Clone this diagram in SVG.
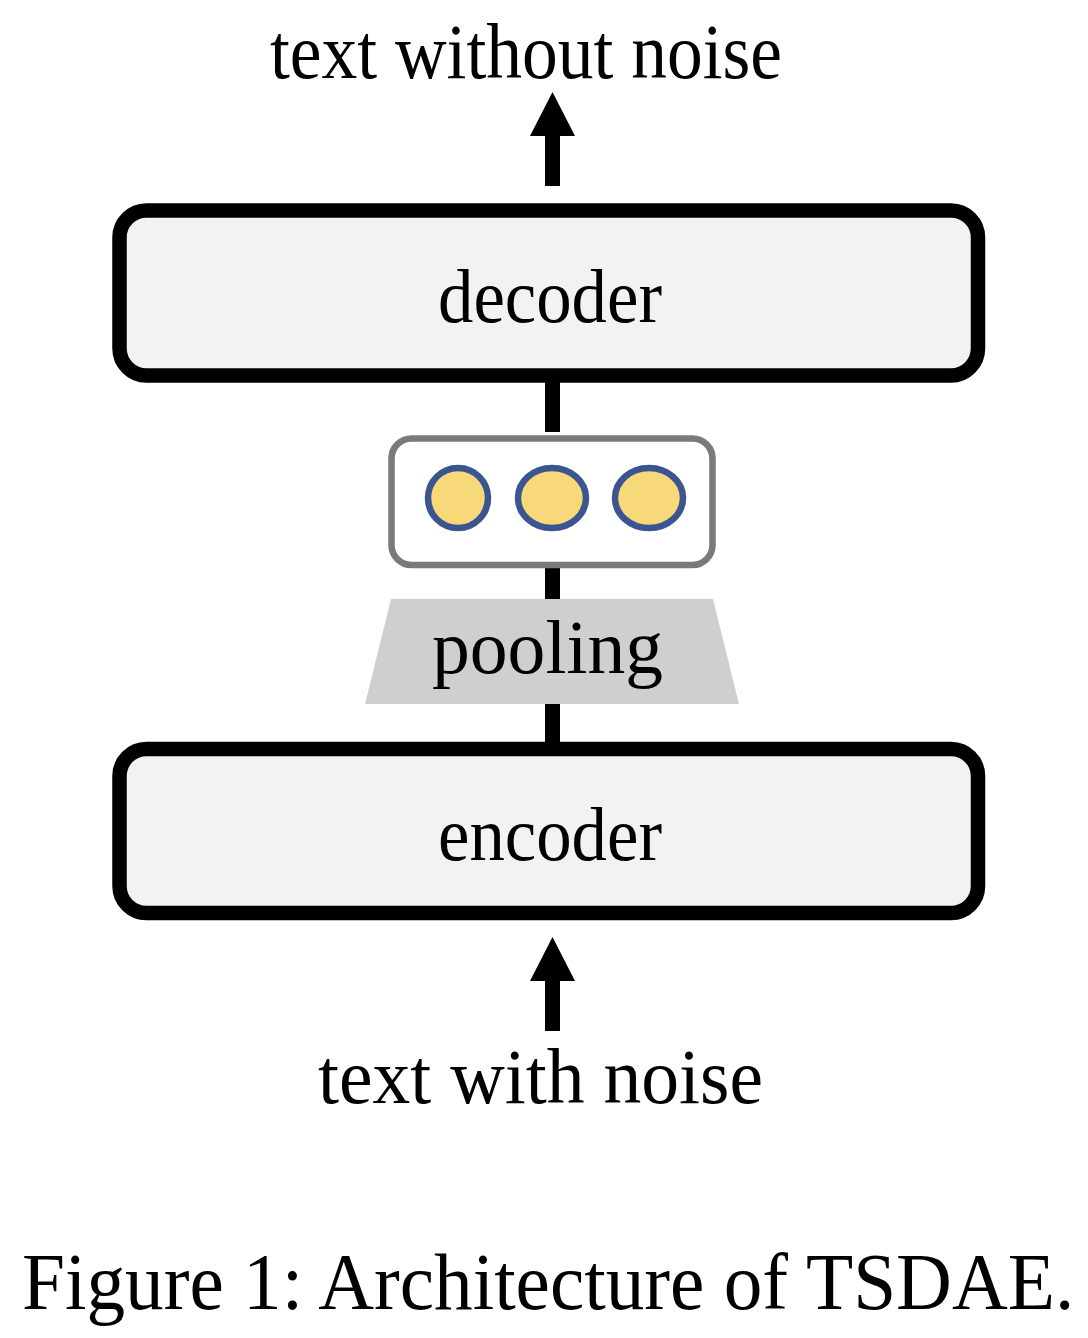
<svg xmlns="http://www.w3.org/2000/svg" width="1088" height="1338" viewBox="0 0 1088 1338">
<style>
.t{font-family:"Liberation Serif","Times New Roman",serif;fill:#000}
.box{fill:#f2f2f2;stroke:#000;stroke-width:14.5}
.conn{stroke:#000;stroke-width:15;fill:none}
.dot{fill:#f8d97a;stroke:#3b5590;stroke-width:6.5}
</style>
<rect width="1088" height="1338" fill="#fff"/>
<g id="connectors">
<line class="conn" x1="552.5" y1="186" x2="552.5" y2="130"/>
<polygon points="530,136 575,136 552.5,92" fill="#000"/>
<line class="conn" x1="552.5" y1="376" x2="552.5" y2="432"/>
<line class="conn" x1="552.5" y1="565" x2="552.5" y2="602"/>
<line class="conn" x1="552.5" y1="702" x2="552.5" y2="746"/>
<line class="conn" x1="552.5" y1="1031" x2="552.5" y2="975"/>
<polygon points="530,981 575,981 552.5,937" fill="#000"/>
</g>
<g id="output-label"><text class="t" x="270" y="78" font-size="78" textLength="512" lengthAdjust="spacingAndGlyphs">text without noise</text></g>
<g id="decoder">
<rect class="box" x="119.5" y="210.5" width="858.5" height="165" rx="27"/>
<text class="t" x="438" y="322" font-size="76" textLength="224" lengthAdjust="spacingAndGlyphs">decoder</text>
</g>
<g id="embedding">
<rect x="391.5" y="438.5" width="321" height="126.5" rx="20" fill="#fff" stroke="#7a7a7a" stroke-width="6.5"/>
<ellipse class="dot" cx="458" cy="498" rx="30" ry="30"/>
<ellipse class="dot" cx="552" cy="498" rx="34" ry="30"/>
<ellipse class="dot" cx="649" cy="498" rx="34" ry="30"/>
</g>
<g id="pooling">
<polygon points="391,599 713,599 739,704 365,704" fill="#d0cfd0"/>
<text class="t" x="432" y="673" font-size="76" textLength="231" lengthAdjust="spacingAndGlyphs">pooling</text>
</g>
<g id="encoder">
<rect class="box" x="119.5" y="749" width="858.5" height="164" rx="27"/>
<text class="t" x="438" y="860" font-size="76" textLength="224" lengthAdjust="spacingAndGlyphs">encoder</text>
</g>
<g id="input-label"><text class="t" x="318" y="1103" font-size="78" textLength="445" lengthAdjust="spacingAndGlyphs">text with noise</text></g>
<g id="caption"><text class="t" transform="translate(22,1309) scale(0.966,1)" x="0" y="0" font-size="80">Figure 1: Architecture of TSDAE.</text></g>
</svg>
